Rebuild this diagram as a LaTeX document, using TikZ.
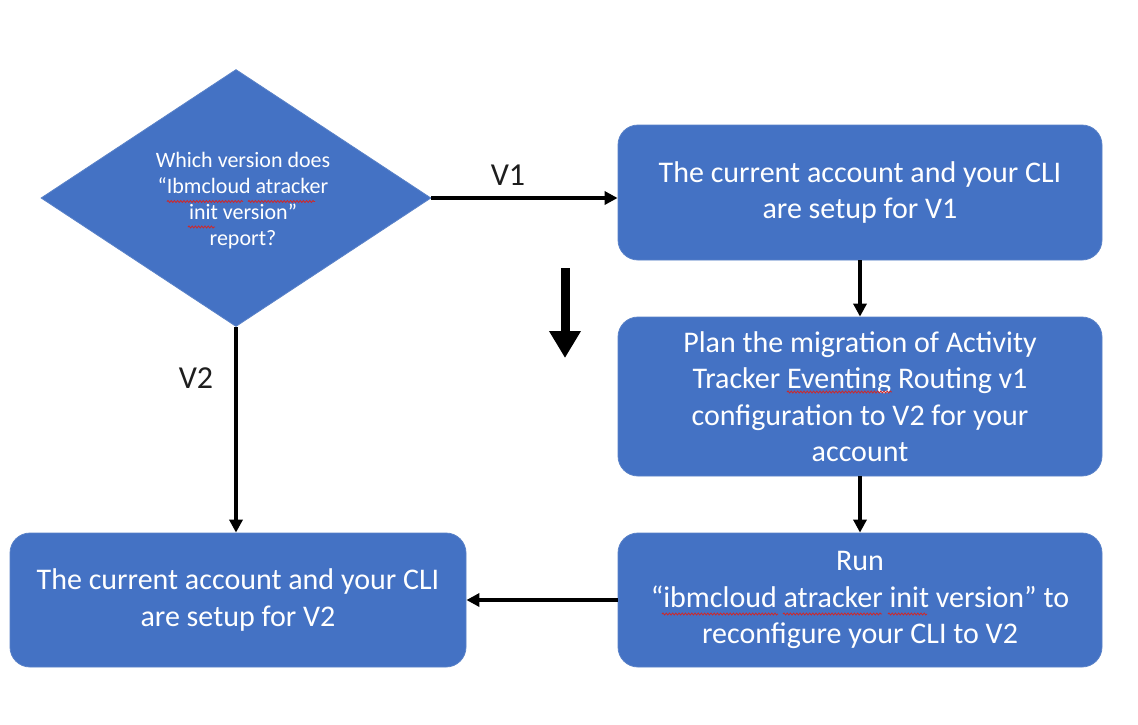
\documentclass[tikz,border=0pt]{standalone}
\usepackage{fontspec}
\setmainfont{Carlito}
\usetikzlibrary{shapes.geometric,arrows.meta,decorations.pathmorphing}
\definecolor{officeblue}{HTML}{4472C4}
\definecolor{edgeblue}{HTML}{5A82C8}
\definecolor{labelgray}{HTML}{1E1E1E}
\definecolor{squigred}{HTML}{D02828}
\begin{document}
\begin{tikzpicture}[x=1pt,y=-1pt,
  boxnode/.style={rectangle, rounded corners=20pt, fill=officeblue, draw=edgeblue, line width=0.8pt,
    text=white, align=center, inner sep=0pt, font=\fontsize{30}{36.5}\selectfont},
  dianode/.style={diamond, fill=officeblue, draw=edgeblue, line width=0.8pt, inner sep=0pt,
    minimum width=390pt, minimum height=257pt},
  diatext/.style={text=white, align=center, inner sep=0pt, font=\fontsize{22}{26}\selectfont},
  conn/.style={line width=3.5pt, -{Triangle[length=13pt,width=13pt]}},
  lbl/.style={text=labelgray, inner sep=0pt, font=\fontsize{32}{36}\selectfont},
  squig/.style={squigred, line width=0.8pt, decorate, decoration={snake, amplitude=1pt, segment length=3.2pt}}
]
\useasboundingbox (0,0) rectangle (1138,724);
\fill[white] (0,0) rectangle (1138,724);

\node[dianode] (d) at (236,198) {};
\node[diatext] (dt) at (243,201) {Which version does\\“Ibmcloud atracker\\init version”\\report?};

\node[boxnode, minimum width=484pt, minimum height=135pt] (b1) at (860,192.5)
  {The current account and your CLI\\are setup for V1};
\node[boxnode, minimum width=484pt, minimum height=159pt] (b2) at (860,396.5)
  {Plan the migration of Activity\\Tracker Eventing Routing v1\\configuration to V2 for your\\account};
\node[boxnode, minimum width=484pt, minimum height=134pt] (b3) at (860,600)
  {Run\\“ibmcloud atracker init version” to\\reconfigure your CLI to V2};
\node[boxnode, minimum width=456pt, minimum height=134pt] (b4) at (238,600)
  {The current account and your CLI\\are setup for V2};

\draw[conn] (d.east) -- (d.east -| b1.west);
\node[lbl] (v1) at (508,175) {V1};
\draw[conn] (b1.south) -- (b2.north);
\draw[conn] (b2.south) -- (b3.north);
\draw[conn] (b3.west) -- (b4.east);
\draw[conn] (d.south) -- (d.south |- b4.north);
\node[lbl] (v2) at (196,378) {V2};

\coordinate (bigtop) at (565,268);
\coordinate (bigbot) at (565,358);
\draw[line width=9pt, -{Triangle[length=27pt,width=30pt]}] (bigtop) -- (bigbot);

% spell-check underlines
\draw[squig] (167,201.5) -- (243,201.5);
\draw[squig] (248,201.5) -- (315,201.5);
\draw[squig] (188,227) -- (215,227);
\draw[squig] (787,392) -- (892,392);
\draw[squig] (662,614) -- (778,614);
\draw[squig] (783,614) -- (882,614);
\draw[squig] (888,614) -- (927,614);
\end{tikzpicture}
\end{document}
